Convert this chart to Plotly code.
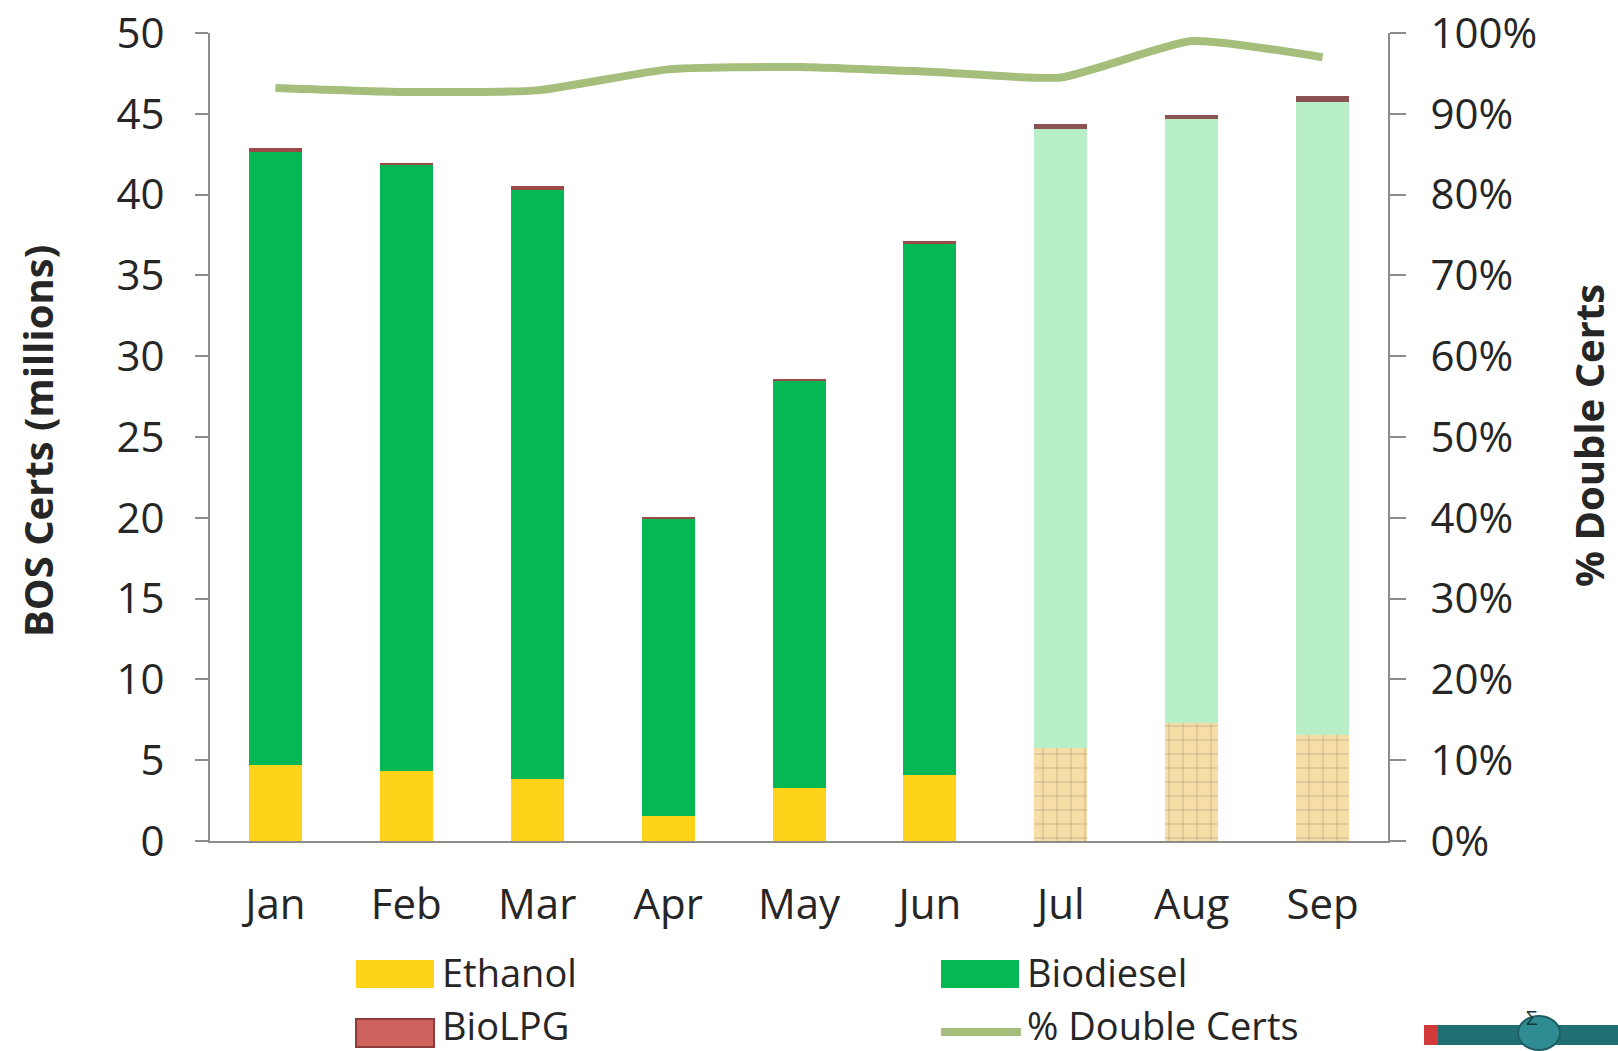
import plotly.graph_objects as go

months = ["Jan", "Feb", "Mar", "Apr", "May", "Jun", "Jul", "Aug", "Sep"]
ethanol = [4.7, 4.35, 3.85, 1.57, 3.3, 4.1, 5.75, 7.3, 6.55]
biodiesel = [37.95, 37.5, 36.45, 18.38, 25.2, 32.9, 38.3, 37.35, 39.2]
biolpg = [0.22, 0.12, 0.25, 0.1, 0.12, 0.12, 0.35, 0.3, 0.38]
double_certs = [0.932, 0.927, 0.929, 0.955, 0.958, 0.952, 0.945, 0.990, 0.970]
projected = [False, False, False, False, False, False, True, True, True]

FONT = "Open Sans"
TXT = "#262626"
AX = "#8C8C8C"

eth_col = ["#F7DEA6" if p else "#FFD31A" for p in projected]
bio_col = ["#B8EFC6" if p else "#05B853" for p in projected]
lpg_col = ["#8A5252" if p else "#9C4A48" for p in projected]
eth_pat = ["+" if p else "" for p in projected]

fig = go.Figure()
fig.add_trace(go.Bar(x=months, y=ethanol, name="Ethanol",
                     marker=dict(color=eth_col, line=dict(width=0),
                                 pattern=dict(shape=eth_pat, fgcolor="#EDD3A0",
                                              size=14, solidity=0.07, fillmode="overlay")),
                     showlegend=False))
fig.add_trace(go.Bar(x=months, y=biodiesel, name="Biodiesel",
                     marker=dict(color=bio_col, line=dict(width=0)), showlegend=False))
fig.add_trace(go.Bar(x=months, y=biolpg, name="BioLPG",
                     marker=dict(color=lpg_col, line=dict(width=0)), showlegend=False))
fig.add_trace(go.Scatter(x=months, y=double_certs, name="% Double Certs", yaxis="y2",
                         mode="lines", line=dict(color="#A5BE7C", width=8, shape="spline", smoothing=0.5),
                         showlegend=False))

W, H = 1618, 1051
L, T = 210, 33
R = W - 1388
B = H - 841
PW, PH = W - L - R, H - T - B


def px(x):
    return (x - L) / PW


def py(y):
    return (H - B - y) / PH


shapes = []
annotations = []
legend_items = [
    ("Ethanol", "bar", "#FFD31A", None, 356, 974, 972),
    ("Biodiesel", "bar", "#05B853", None, 941, 974, 972),
    ("BioLPG", "bar", "#D0625E", "#8E3B39", 356, 1033, 1025),
    ("% Double Certs", "line", "#A5BE7C", None, 941, 1032, 1025),
]
for name, kind, col, border, x0, yc, ty in legend_items:
    if kind == "bar":
        shapes.append(dict(type="rect", xref="paper", yref="paper",
                           x0=px(x0), x1=px(x0 + 78), y0=py(yc + 14), y1=py(yc - 14),
                           fillcolor=col,
                           line=dict(width=2 if border else 0, color=border or col)))
    else:
        shapes.append(dict(type="line", xref="paper", yref="paper",
                           x0=px(x0), x1=px(x0 + 80), y0=py(yc), y1=py(yc),
                           line=dict(color=col, width=8)))
    annotations.append(dict(text=name, xref="paper", yref="paper", x=px(x0 + 84), y=py(ty),
                            xanchor="left", yanchor="middle", showarrow=False,
                            font=dict(family=FONT, size=38, color=TXT)))

# axis titles
annotations.append(dict(text="<b>BOS Certs (millions)</b>", xref="paper", yref="paper",
                        x=px(37), y=py(441), textangle=-90, showarrow=False,
                        xanchor="center", yanchor="middle",
                        font=dict(family=FONT, size=40, color=TXT)))
annotations.append(dict(text="<b>% Double Certs</b>", xref="paper", yref="paper",
                        x=px(1588), y=py(436), textangle=-90, showarrow=False,
                        xanchor="center", yanchor="middle",
                        font=dict(family=FONT, size=40, color=TXT)))

# small logo approximation
shapes.append(dict(type="rect", xref="paper", yref="paper", x0=px(1424), x1=px(1618),
                   y0=py(1045), y1=py(1025), fillcolor="#1F6F74", line=dict(width=0)))
shapes.append(dict(type="rect", xref="paper", yref="paper", x0=px(1424), x1=px(1438),
                   y0=py(1045), y1=py(1025), fillcolor="#D23A3A", line=dict(width=0)))
shapes.append(dict(type="circle", xref="paper", yref="paper", x0=px(1518), x1=px(1560),
                   y0=py(1050), y1=py(1016), fillcolor="#2E8C92", line=dict(color="#1F5F63", width=2)))
annotations.append(dict(text="Σ", xref="paper", yref="paper", x=px(1539), y=py(1033),
                        showarrow=False, font=dict(family=FONT, size=20, color="#10393C")))

fig.update_layout(
    width=W, height=H,
    margin=dict(l=L, r=R, t=T, b=B, autoexpand=False),
    paper_bgcolor="white", plot_bgcolor="white",
    barmode="stack", bargap=0.595,
    font=dict(family=FONT, color=TXT),
    showlegend=False,
    shapes=shapes,
    annotations=annotations,
    xaxis=dict(showgrid=False, showline=True, linecolor=AX, linewidth=2, automargin=False,
               ticks="", tickfont=dict(family=FONT, size=42, color=TXT),
               ticklabelstandoff=26),
    yaxis=dict(range=[0, 50], dtick=5, showgrid=False, zeroline=False, automargin=False,
               showline=True, linecolor=AX, linewidth=2, ticklabeloverflow="allow",
               ticks="outside", ticklen=13, tickcolor=AX, tickwidth=2,
               tickfont=dict(family=FONT, size=42, color=TXT), ticklabelstandoff=22),
    yaxis2=dict(range=[0, 1], dtick=0.1, tickformat=".0%", overlaying="y", side="right",
                showgrid=False, zeroline=False, showline=True, linecolor=AX, linewidth=2,
                automargin=False, ticklabeloverflow="allow",
                ticks="outside", ticklen=16, tickcolor=AX, tickwidth=2,
                tickfont=dict(family=FONT, size=42, color=TXT), ticklabelstandoff=16),
)

fig.write_html("out.html", config={"displayModeBar": False},
               post_script="document.body.style.margin='0';document.body.style.padding='0';")
